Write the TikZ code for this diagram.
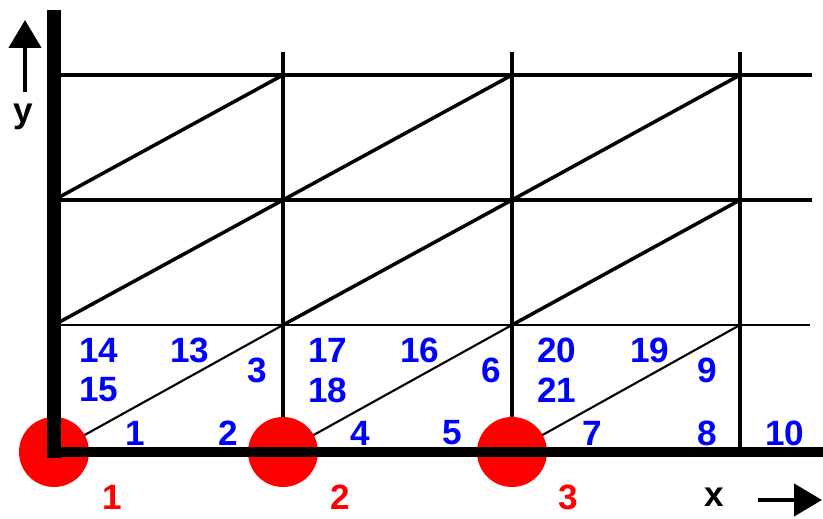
\documentclass[tikz,border=0pt]{standalone}
\usepackage{fontspec}
\setmainfont{Liberation Sans}
\usetikzlibrary{arrows.meta}

\begin{document}
\begin{tikzpicture}[
    x=0.02cm, y=-0.02cm,
    grid_line/.style={line width=2.3pt},
    thin_line/.style={line width=1.2pt},
    diag_line/.style={line width=2pt},
    axis_line/.style={line width=7.8pt},
    num_font/.style={font=\fontsize{20}{24}\selectfont\bfseries, inner sep=0pt},
    blue_num/.style={num_font, text=blue},
    red_num/.style={num_font, text=red},
    dot_style/.style={circle, fill=red, minimum size=1.4cm, inner sep=0pt},
    axis_arrow/.style={line width=2.6pt, -{Triangle[width=0.64cm, length=0.56cm]}}
]
\useasboundingbox (0,0) rectangle (823,519);
% grid points
\foreach \i/\xx in {0/54,1/283,2/512,3/740} {
    \foreach \j/\yy in {0/452,1/325,2/200,3/75} {
        \coordinate (p\i\j) at (\xx,\yy);
    }
}
% grid lines
\draw[thin_line] (p01) -- (810,325);
\draw[grid_line] (p02) -- (812,200);
\draw[grid_line] (p03) -- (812,75);
\foreach \i in {1,2,3} {
    \draw[grid_line] (p\i0) -- ([yshift=0.46cm]p\i3);
}
% diagonals
\foreach \i in {0,1,2} {
    \pgfmathtruncatemacro{\k}{\i+1}
    \draw[thin_line] (p\i0) -- (p\k1);
    \draw[diag_line] (p\i1) -- (p\k2);
    \draw[diag_line] (p\i2) -- (p\k3);
}
% red points
\node[dot_style] (dot1) at (p00) {};
\node[dot_style] (dot2) at (p10) {};
\node[dot_style] (dot3) at (p20) {};
\node[red_num] (lab1) at (112,497) {1};
\node[red_num] (lab2) at (340,497) {2};
\node[red_num] (lab3) at (568,497) {3};
% axes
\draw[axis_line] (54,10) -- (54,458);
\draw[line width=6.2pt] (47,452) -- (823,452);
% numbers
\foreach \t/\px/\py in {1/135/433, 2/228/433, 3/257/370, 4/360/433, 5/452/433,
    6/491/370, 7/592/433, 8/707/433, 9/707/370, 10/785/433,
    13/190/350, 14/99/350, 15/99/390, 16/420/350, 17/328/350, 18/328/390,
    19/650/350, 20/557/350, 21/557/390} {
    \node[blue_num] (n\t) at (\px,\py) {\t};
}
% axis arrows
\coordinate (ytail) at (25,92);
\coordinate (yhead) at (25,20);
\draw[axis_arrow] (ytail) -- (yhead);
\node[num_font] (ylab) at (23,117) {y};
\coordinate (xtail) at (758,500);
\coordinate (xhead) at (822,500);
\draw[axis_arrow] (xtail) -- (xhead);
\node[num_font] (xlab) at (714,497) {x};
\end{tikzpicture}
\end{document}
